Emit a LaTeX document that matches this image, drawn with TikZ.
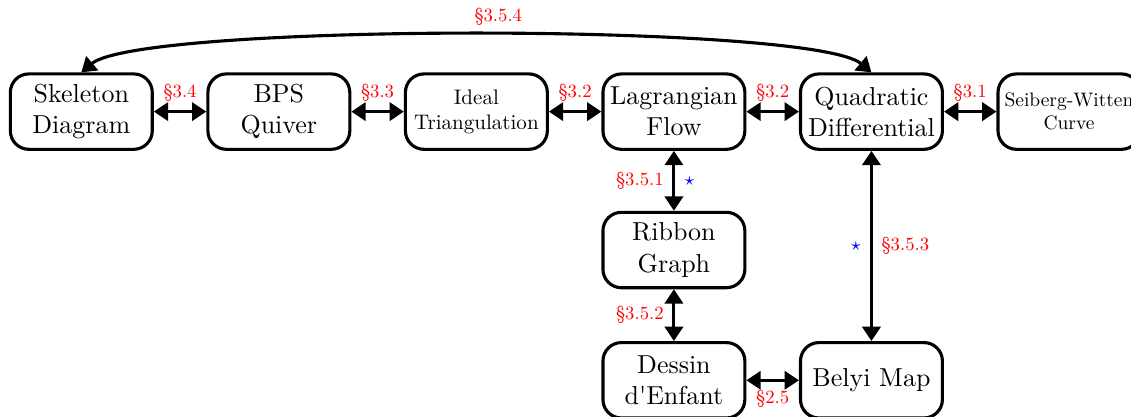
\documentclass[tikz,border=0pt]{standalone}
\usepackage{amsmath}
\usepackage{amssymb}
\usepackage{fontspec}
\setmainfont{lmroman10-regular.otf}
\usepackage{tikz}
\usetikzlibrary{positioning,arrows.meta}
\usepackage{xcolor}

\begin{document}
\begin{tikzpicture}[
    > = {Triangle[length=5.5pt,width=7pt]},
    auto,
    node distance = 0.71cm,
    very thick,
    box/.style={rectangle, draw, rounded corners=2.5mm, align=center,
                minimum width=1.92cm, minimum height=1.02cm, inner sep=1pt},
    sec/.style={font=\fontsize{7.2}{8.5}\selectfont, text=red},
    star/.style={font=\scriptsize, text=blue}
]
\useasboundingbox (-1.10,1.51) rectangle (14.20,-4.12);

% Boxes
\node[box] (skel) {Skeleton\\Diagram};
\node[box] (bps) [right=of skel] {BPS\\Quiver};
\node[box, font=\fontsize{8.1}{9.7}\selectfont] (ideal) [right=of bps] {Ideal\\Triangulation};
\node[box] (lag) [right=of ideal] {Lagrangian\\Flow};
\node[box] (quad) [right=of lag] {Quadratic\\Differential};
\node[box, font=\fontsize{7.5}{9}\selectfont] (sw) [right=of quad] {Seiberg-Witten\\Curve};
\node[box] (ribbon) [below=0.81cm of lag] {Ribbon\\Graph};
\node[box] (dessin) [below=0.70cm of ribbon] {Dessin\\d\textquotesingle Enfant};
\node[box] (belyi) [right=of dessin] {Belyi Map};

% Top row
\path[<->]
    (skel) edge node[sec] {\S3.4} (bps)
    (bps) edge node[sec] {\S3.3} (ideal)
    (ideal) edge node[sec] {\S3.2} (lag)
    (lag) edge node[sec] {\S3.2} (quad)
    (quad) edge node[sec] {\S3.1} (sw);

% Long way round
\draw[<->] (skel.north) to[out=40, in=140, looseness=0.25]
    node[sec, pos=0.52, above] {\S3.5.4} (quad.north);

% Down the middle
\path[<->]
    (ribbon) edge node[sec] {\S3.5.1} node[star, swap] {$\star$} (lag)
    (dessin) edge node[sec] {\S3.5.2} (ribbon)
    (quad) edge node[sec] {\S3.5.3} node[star, swap] {$\star$} (belyi)
    (dessin) edge node[sec, swap] {\S2.5} (belyi);

\end{tikzpicture}
\end{document}
